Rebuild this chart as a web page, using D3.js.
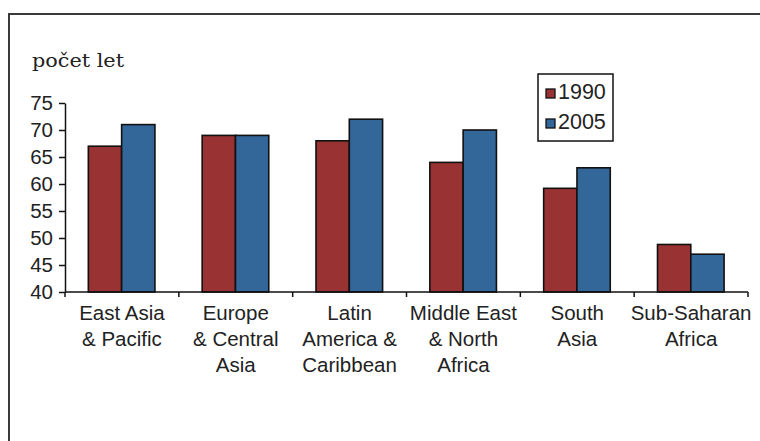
<!DOCTYPE html>
<html>
<head>
<meta charset="utf-8">
<script src="https://cdn.jsdelivr.net/npm/d3@7"></script>
<style>
  html, body { margin: 0; padding: 0; background: #fff; }
  svg { display: block; }
</style>
</head>
<body>
<svg id="chart" width="760" height="441"></svg>
<script>
// Life expectancy by region (years)
const regions = [
  ["East Asia", "& Pacific"],
  ["Europe", "& Central", "Asia"],
  ["Latin", "America &", "Caribbean"],
  ["Middle East", "& North", "Africa"],
  ["South", "Asia"],
  ["Sub-Saharan", "Africa"]
];
const years = ["1990", "2005"];
const values1990 = [67, 69, 68, 64, 59.2, 48.8];
const values2005 = [71, 69, 72, 70, 63, 47];
const yTicks = [40, 45, 50, 55, 60, 65, 70, 75];
const yTitle = "počet let";

const colors = { "1990": "#993333", "2005": "#336699" };
const sans = "Liberation Sans, Arial, sans-serif";

const svg = d3.select("#chart");

// outer frame
svg.append("rect")
  .attr("x", 9).attr("y", 14)
  .attr("width", 800).attr("height", 500)
  .attr("fill", "none")
  .attr("stroke", "#3a3a3a")
  .attr("stroke-width", 2);

const plot = { left: 65, right: 748, top: 103, bottom: 292 };

const x0 = d3.scaleBand()
  .domain(d3.range(regions.length))
  .range([plot.left, plot.right]);

const x1 = d3.scaleBand()
  .domain(years)
  .range([x0.bandwidth() * 0.205, x0.bandwidth() * 0.79]);

const y = d3.scaleLinear().domain([40, 75]).range([plot.bottom, plot.top]);

const data = regions.map((r, i) => ({ i, vals: [
  { year: "1990", v: values1990[i] },
  { year: "2005", v: values2005[i] }
]}));

// bars
const groups = svg.append("g").selectAll("g")
  .data(data).join("g")
  .attr("transform", d => `translate(${x0(d.i)},0)`);

groups.selectAll("rect")
  .data(d => d.vals).join("rect")
  .attr("x", d => x1(d.year))
  .attr("width", x1.bandwidth())
  .attr("y", d => y(d.v))
  .attr("height", d => y(40) - y(d.v))
  .attr("fill", d => colors[d.year])
  .attr("stroke", "#111")
  .attr("stroke-width", 1.6);

// y axis
const yAxis = svg.append("g")
  .attr("transform", `translate(${plot.left},0)`)
  .call(d3.axisLeft(y).tickValues(yTicks).tickSize(6).tickSizeOuter(0));
yAxis.select(".domain").attr("stroke", "#111").attr("stroke-width", 1.5);
yAxis.selectAll(".tick line").attr("stroke", "#111").attr("stroke-width", 1.5);
yAxis.selectAll(".tick text")
  .attr("x", -12)
  .attr("font-family", sans)
  .attr("font-size", 20.5)
  .attr("fill", "#222");

// x axis line with boundary ticks
const boundaries = d3.range(regions.length + 1).map(i =>
  i < regions.length ? x0(i) : x0(regions.length - 1) + x0.bandwidth());
const xAxis = svg.append("g");
xAxis.append("line")
  .attr("x1", plot.left).attr("x2", plot.right)
  .attr("y1", plot.bottom).attr("y2", plot.bottom)
  .attr("stroke", "#111").attr("stroke-width", 1.5);
xAxis.selectAll("line.tk").data(boundaries).join("line")
  .attr("class", "tk")
  .attr("x1", d => d).attr("x2", d => d)
  .attr("y1", plot.bottom).attr("y2", plot.bottom + 5)
  .attr("stroke", "#111").attr("stroke-width", 1.5);

// category labels
const lab = svg.append("g").selectAll("text")
  .data(regions).join("text")
  .attr("x", (d, i) => x0(i) + x0.bandwidth() / 2)
  .attr("y", 320)
  .attr("text-anchor", "middle")
  .attr("font-family", sans)
  .attr("font-size", 20.5)
  .attr("fill", "#222");
lab.selectAll("tspan")
  .data(d => d).join("tspan")
  .attr("x", function() { return d3.select(this.parentNode).attr("x"); })
  .attr("dy", (d, j) => j === 0 ? 0 : 26)
  .text(d => d);

// y title
svg.append("text")
  .attr("x", 32).attr("y", 67)
  .attr("font-family", "DejaVu Serif, serif")
  .attr("font-size", 19)
  .attr("textLength", 92)
  .attr("lengthAdjust", "spacingAndGlyphs")
  .attr("fill", "#222")
  .text(yTitle);

// legend
const lg = svg.append("g");
lg.append("rect")
  .attr("x", 538).attr("y", 74)
  .attr("width", 75).attr("height", 67)
  .attr("fill", "#fff").attr("stroke", "#111").attr("stroke-width", 1.5);
const li = lg.selectAll("g.item").data(years).join("g")
  .attr("class", "item")
  .attr("transform", (d, i) => `translate(546,${89 + i * 30})`);
li.append("rect")
  .attr("width", 9).attr("height", 9)
  .attr("fill", d => colors[d])
  .attr("stroke", "#111").attr("stroke-width", 1.3);
li.append("text")
  .attr("x", 12).attr("y", 9.5)
  .attr("font-family", sans)
  .attr("font-size", 21.5)
  .attr("fill", "#222")
  .text(d => d);
</script>
</body>
</html>
